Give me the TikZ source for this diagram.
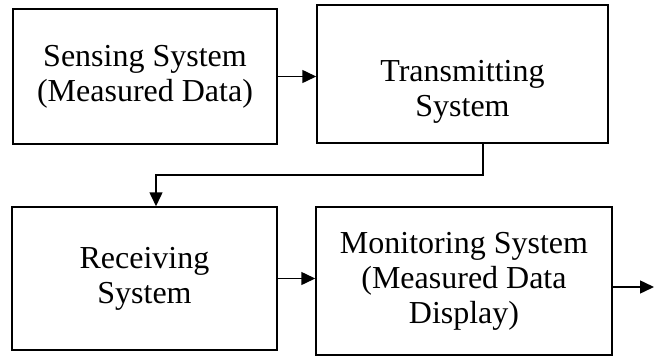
\documentclass[tikz,border=0pt]{standalone}
\usepackage{fontspec}
\setmainfont{Liberation Serif}
\usetikzlibrary{arrows.meta}

\begin{document}
\begin{tikzpicture}[
  x=1pt,
  y=1pt,
  line width=1.5pt,
  >={Triangle[length=14pt,width=13pt]},
  block/.style={
    draw,
    inner sep=0pt,
    align=center,
    font=\fontsize{32}{35}\selectfont,
  },
]
  \useasboundingbox (0, 0) rectangle (654, 360);

  \node[block, minimum width=264pt, minimum height=135pt] (sense)
    at (145, 283.5) {Sensing System\\(Measured Data)};
  \node[block, minimum width=291pt, minimum height=138pt] (trans)
    at (462.5, 286) {};
  \node[block, draw=none] (transtxt)
    at ([yshift=-18pt]trans.center) {Transmitting\\System};
  \node[block, minimum width=265pt, minimum height=143pt] (recv)
    at (144.5, 81.5) {Receiving\\System};
  \node[block, minimum width=296pt, minimum height=148pt] (mon)
    at (464, 79) {Monitoring System\\(Measured Data\\Display)};

  \coordinate (bend) at (156, 185);
  \coordinate (out) at (654, 73);

  \draw[->] (sense.east) -- (sense.east -| trans.west);
  \draw[->] ([xshift=20.5pt]trans.south) |- (bend) -- (bend |- recv.north);
  \draw[->] (recv.east) -- (recv.east -| mon.west);
  \draw[->] (out -| mon.east) -- (out);
\end{tikzpicture}
\end{document}
